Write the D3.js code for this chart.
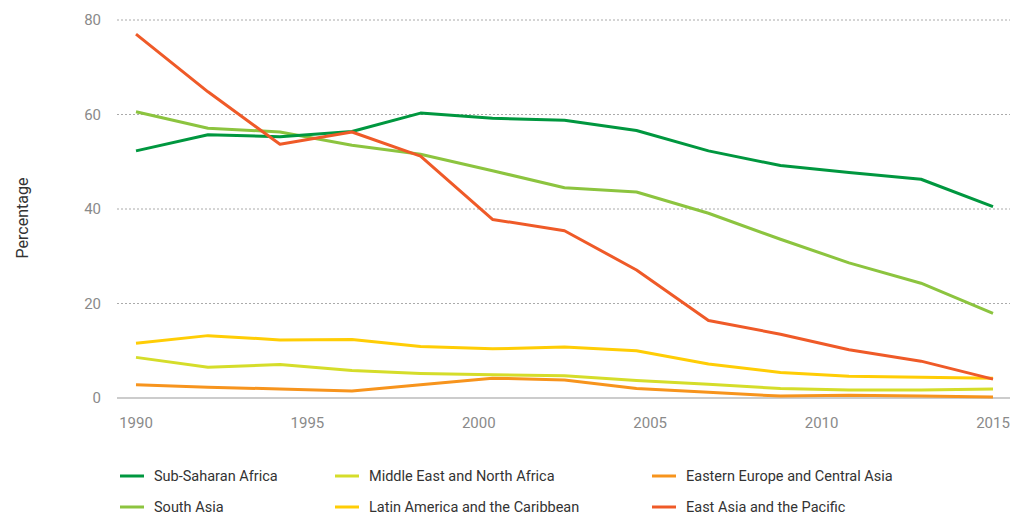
<!DOCTYPE html>
<html>
<head>
<meta charset="utf-8">
<script src="https://cdn.jsdelivr.net/npm/d3@7"></script>
<style>
  body { margin: 0; background: #fff; }
  svg { font-family: Roboto, "Liberation Sans", sans-serif; }
</style>
</head>
<body>
<div id="chart"></div>
<script>
// data
const years = [1990, 1992.1, 1994.2, 1996.3, 1998.3, 2000.4, 2002.5, 2004.6, 2006.7, 2008.8, 2010.8, 2012.9, 2015];
const subSaharan = [52.3, 55.7, 55.3, 56.4, 60.3, 59.2, 58.8, 56.6, 52.3, 49.2, 47.7, 46.3, 40.5];
const southAsia = [60.6, 57.1, 56.3, 53.5, 51.6, 48.1, 44.5, 43.6, 39.1, 33.6, 28.6, 24.3, 17.9];
const eastAsia = [77.0, 64.8, 53.7, 56.3, 51.2, 37.8, 35.4, 27.1, 16.4, 13.5, 10.2, 7.8, 4.0];
const latinAmerica = [11.6, 13.2, 12.3, 12.4, 10.9, 10.4, 10.8, 10.0, 7.2, 5.4, 4.6, 4.4, 4.2];
const mena = [8.6, 6.5, 7.1, 5.8, 5.2, 4.9, 4.7, 3.7, 2.9, 2.0, 1.7, 1.7, 1.9];
const eca = [2.8, 2.3, 1.9, 1.5, 2.8, 4.2, 3.8, 2.0, 1.2, 0.4, 0.6, 0.4, 0.2];
const yTicks = [0, 20, 40, 60, 80];
const xTicks = [1990, 1995, 2000, 2005, 2010, 2015];

// legend order: column by column
const series = [
    { name: "Sub-Saharan Africa", values: subSaharan, color: "#00973f" },
    { name: "South Asia", values: southAsia, color: "#8cc43f" },
    { name: "Middle East and North Africa", values: mena, color: "#d5dd2a" },
    { name: "Latin America and the Caribbean", values: latinAmerica, color: "#ffcd05" },
    { name: "Eastern Europe and Central Asia", values: eca, color: "#f7941d" },
    { name: "East Asia and the Pacific", values: eastAsia, color: "#ef5a28" }
];
// drawing order (bottom first)
const drawOrder = [4, 2, 3, 1, 0, 5];

const width = 1018, height = 516;
const x = d3.scaleLinear().domain([1990, 2015]).range([136, 993]);
const y = d3.scaleLinear().domain([0, 80]).range([398, 20]);
const gridLeft = 117, gridRight = 1010;

const svg = d3.select("#chart").append("svg")
    .attr("width", width).attr("height", height);

// grid
svg.append("g").selectAll("line")
    .data(yTicks.filter(d => d > 0))
    .join("line")
    .attr("x1", gridLeft).attr("x2", gridRight)
    .attr("y1", d => y(d)).attr("y2", d => y(d))
    .attr("stroke", "#aaa").attr("stroke-width", 1)
    .attr("stroke-dasharray", "2,2");

svg.append("line")
    .attr("x1", gridLeft).attr("x2", gridRight)
    .attr("y1", y(0)).attr("y2", y(0))
    .attr("stroke", "#999").attr("stroke-width", 1.2);

// y tick labels
svg.append("g").selectAll("text")
    .data(yTicks)
    .join("text")
    .attr("x", 101).attr("y", d => y(d))
    .attr("dy", "0.35em")
    .attr("text-anchor", "end")
    .attr("font-size", 15)
    .attr("fill", "#8a8a8a")
    .text(d => d);

// x tick labels
svg.append("g").selectAll("text")
    .data(xTicks)
    .join("text")
    .attr("x", d => x(d)).attr("y", 428)
    .attr("text-anchor", "middle")
    .attr("font-size", 15)
    .attr("fill", "#8a8a8a")
    .text(d => d);

// y axis title
svg.append("text")
    .attr("transform", `translate(28,218) rotate(-90)`)
    .attr("text-anchor", "middle")
    .attr("font-size", 16)
    .attr("fill", "#333")
    .text("Percentage");

// lines
const line = d3.line()
    .x((d, i) => x(years[i]))
    .y(d => y(d));

drawOrder.forEach(k => {
    const s = series[k];
    svg.append("path")
        .datum(s.values)
        .attr("fill", "none")
        .attr("stroke", s.color)
        .attr("stroke-width", 3)
        .attr("stroke-linejoin", "round")
        .attr("d", line);
});

// legend
const colX = [120, 335, 652];
const rowY = [476, 507];
series.forEach((s, i) => {
    const col = Math.floor(i / 2), row = i % 2;
    const g = svg.append("g").attr("transform", `translate(${colX[col]},${rowY[row]})`);
    g.append("line")
        .attr("x1", 0).attr("x2", 24).attr("y1", 0).attr("y2", 0)
        .attr("stroke", s.color).attr("stroke-width", 3);
    g.append("text")
        .attr("x", 34).attr("y", 0).attr("dy", "0.35em")
        .attr("font-size", 14.5)
        .attr("fill", "#333")
        .text(s.name);
});
</script>
</body>
</html>
